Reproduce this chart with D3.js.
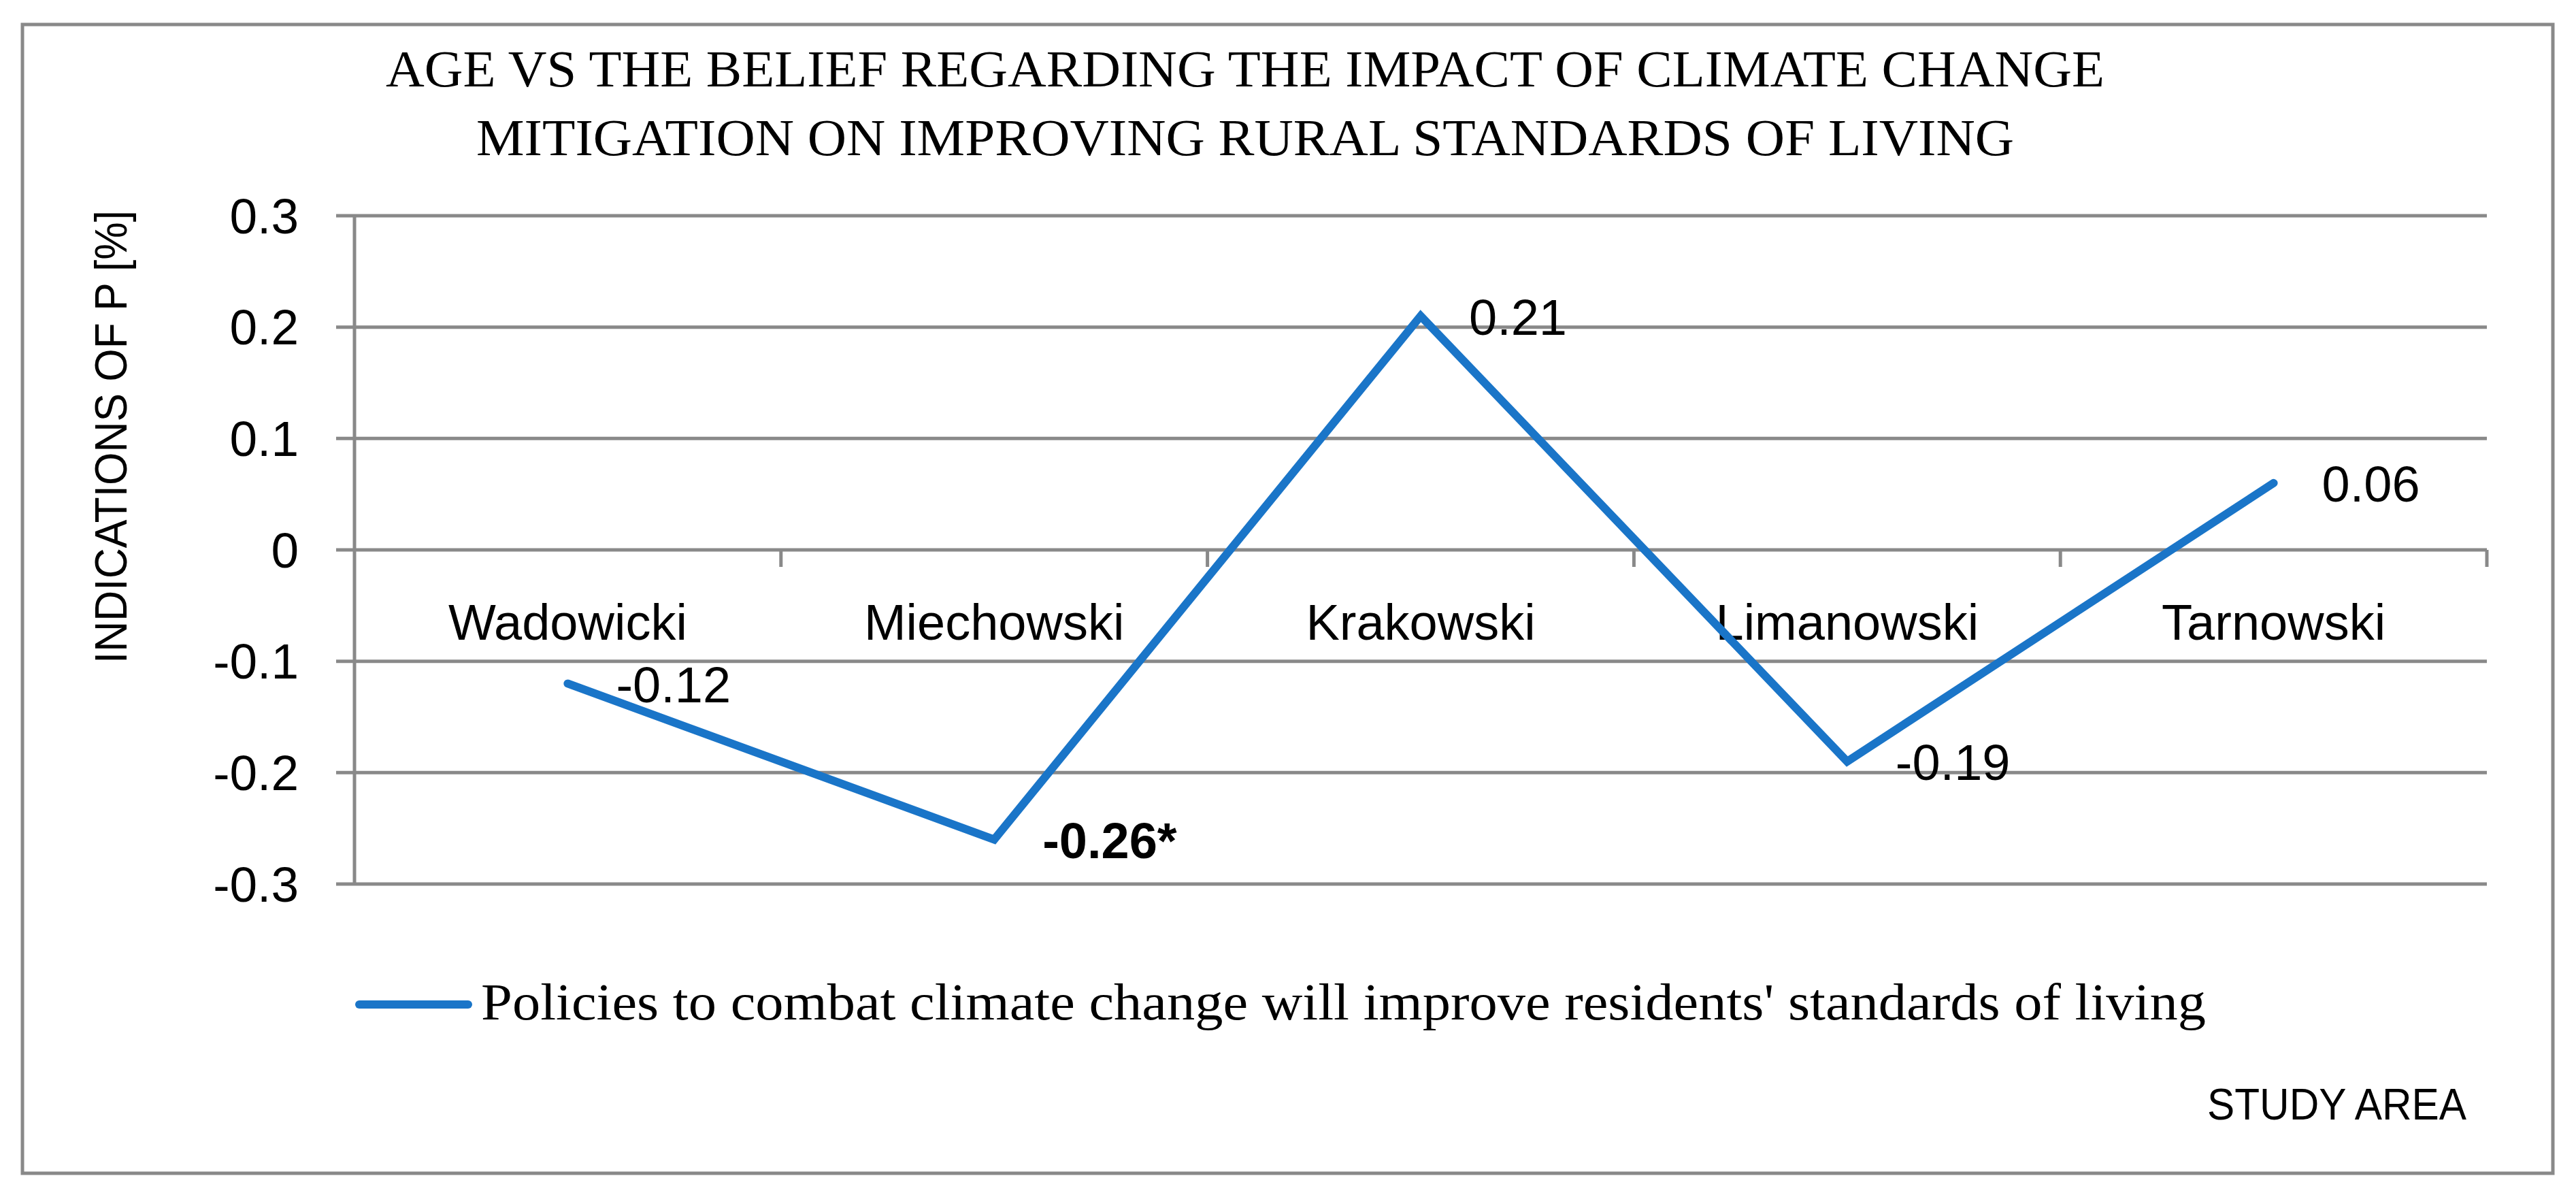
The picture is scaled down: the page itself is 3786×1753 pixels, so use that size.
<!DOCTYPE html>
<html>
<head>
<meta charset="utf-8">
<script src="https://cdn.jsdelivr.net/npm/d3@7/dist/d3.min.js"></script>
<style>
  html, body { margin: 0; padding: 0; background: #ffffff; }
  svg { display: block; }
</style>
</head>
<body>
<svg id="chart" width="3786" height="1753"></svg>
<script>
// ---- data ----
const categories = ["Wadowicki", "Miechowski", "Krakowski", "Limanowski", "Tarnowski"];
const values = [-0.12, -0.26, 0.21, -0.19, 0.06];
const valueLabels = ["-0.12", "-0.26*", "0.21", "-0.19", "0.06"];
const boldLabels = [false, true, false, false, false];
const yTicks = [-0.3, -0.2, -0.1, 0, 0.1, 0.2, 0.3];
const yTickLabels = ["-0.3", "-0.2", "-0.1", "0", "0.1", "0.2", "0.3"];
const titleLines = ["AGE VS THE BELIEF REGARDING THE IMPACT OF CLIMATE CHANGE",
                    "MITIGATION ON IMPROVING RURAL STANDARDS OF LIVING"];
const seriesName = "Policies to combat climate change will improve residents' standards of living";
const yAxisTitle = "INDICATIONS OF P [%]";
const xAxisTitle = "STUDY AREA";

// ---- layout ----
const W = 3786, H = 1753;
const plot = { left: 521, right: 3655, top: 317, bottom: 1299 };
const gridColor = "#898989";
const lineColor = "#1a75c8";
const sans = "'Liberation Sans', Arial, sans-serif";
const serif = "'Liberation Serif', 'Times New Roman', serif";

const svg = d3.select("#chart");

const x = d3.scaleBand().domain(categories).range([plot.left, plot.right]).padding(0);
const y = d3.scaleLinear().domain([-0.3, 0.3]).range([plot.bottom, plot.top]);

// outer border
svg.append("rect")
  .attr("x", 33).attr("y", 36)
  .attr("width", 3752 - 33).attr("height", 1724 - 36)
  .attr("fill", "#ffffff")
  .attr("stroke", gridColor).attr("stroke-width", 5);

// title
svg.append("g").selectAll("text").data(titleLines).join("text")
  .attr("x", 1830)
  .attr("y", (d, i) => 127 + i * 101)
  .attr("text-anchor", "middle")
  .attr("font-family", serif)
  .attr("font-size", 77)
  .attr("fill", "#000")
  .attr("textLength", (d, i) => [2526, 2260][i])
  .attr("lengthAdjust", "spacingAndGlyphs")
  .text(d => d);

// gridlines
svg.append("g").selectAll("line").data(yTicks).join("line")
  .attr("x1", plot.left - 27).attr("x2", plot.right)
  .attr("y1", d => y(d)).attr("y2", d => y(d))
  .attr("stroke", gridColor).attr("stroke-width", 5);

// y axis line
svg.append("line")
  .attr("x1", plot.left).attr("x2", plot.left)
  .attr("y1", y(0.3)).attr("y2", y(-0.3))
  .attr("stroke", gridColor).attr("stroke-width", 5);

// category axis ticks at band boundaries on the zero line
const boundaries = categories.map(c => x(c) + x.bandwidth());
svg.append("g").selectAll("line").data(boundaries).join("line")
  .attr("x1", d => d).attr("x2", d => d)
  .attr("y1", y(0)).attr("y2", y(0) + 25)
  .attr("stroke", gridColor).attr("stroke-width", 5);

// y tick labels
svg.append("g").selectAll("text").data(yTicks).join("text")
  .attr("x", 439)
  .attr("y", d => y(d))
  .attr("dy", "0.35em")
  .attr("text-anchor", "end")
  .attr("font-family", sans)
  .attr("font-size", 73)
  .attr("fill", "#000")
  .text((d, i) => yTickLabels[i]);

// category labels
svg.append("g").selectAll("text").data(categories).join("text")
  .attr("x", d => x(d) + x.bandwidth() / 2)
  .attr("y", y(0) + 132)
  .attr("text-anchor", "middle")
  .attr("font-family", sans)
  .attr("font-size", 74)
  .attr("fill", "#000")
  .text(d => d);

// series line
const pts = categories.map((c, i) => [x(c) + x.bandwidth() / 2, y(values[i])]);
svg.append("path")
  .attr("d", d3.line()(pts))
  .attr("fill", "none")
  .attr("stroke", lineColor)
  .attr("stroke-width", 12)
  .attr("stroke-linejoin", "miter")
  .attr("stroke-linecap", "round");

// data labels
svg.append("g").selectAll("text").data(categories).join("text")
  .attr("x", (d, i) => pts[i][0] + 71)
  .attr("y", (d, i) => pts[i][1])
  .attr("dy", "0.37em")
  .attr("font-family", sans)
  .attr("font-size", 74)
  .attr("font-weight", (d, i) => boldLabels[i] ? "bold" : "normal")
  .attr("fill", "#000")
  .text((d, i) => valueLabels[i]);

// y axis title
svg.append("text")
  .attr("transform", "translate(186," + 642 + ") rotate(-90)")
  .attr("text-anchor", "middle")
  .attr("font-family", sans)
  .attr("font-size", 66)
  .attr("fill", "#000")
  .attr("textLength", 666)
  .attr("lengthAdjust", "spacingAndGlyphs")
  .text(yAxisTitle);

// legend
const legend = svg.append("g");
legend.append("line")
  .attr("x1", 528).attr("x2", 688)
  .attr("y1", 1476).attr("y2", 1476)
  .attr("stroke", lineColor).attr("stroke-width", 12)
  .attr("stroke-linecap", "round");
legend.append("text")
  .attr("x", 707).attr("y", 1498)
  .attr("font-family", serif)
  .attr("font-size", 77)
  .attr("fill", "#000")
  .attr("textLength", 2535)
  .attr("lengthAdjust", "spacingAndGlyphs")
  .text(seriesName);

// x axis title
svg.append("text")
  .attr("x", 3244).attr("y", 1645)
  .attr("font-family", sans)
  .attr("font-size", 64)
  .attr("fill", "#000")
  .attr("textLength", 381)
  .attr("lengthAdjust", "spacingAndGlyphs")
  .text(xAxisTitle);
</script>
</body>
</html>
